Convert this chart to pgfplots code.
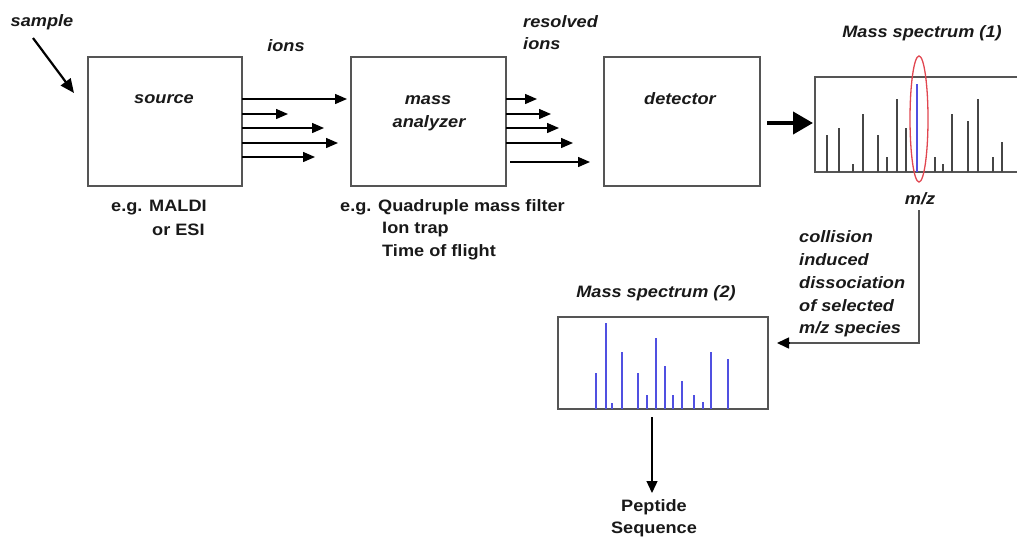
\documentclass[border=0pt]{standalone}
\usepackage{fontspec}
\setmainfont[FakeStretch=1.1]{Liberation Sans}
\usepackage{pgfplots}
\pgfplotsset{compat=1.18}
\usetikzlibrary{arrows.meta}
\definecolor{boxc}{RGB}{85,85,85}
\definecolor{txt}{RGB}{25,25,25}
\definecolor{specgray}{RGB}{70,70,70}
\definecolor{specblue}{RGB}{80,80,225}
\definecolor{ovalred}{RGB}{225,70,80}
\newcommand\lbl{\fontsize{16.5}{19}\selectfont\bfseries}
\tikzset{
  ar/.style={-{Triangle[length=12pt,width=10pt]}, line width=1.4pt, black},
  bx/.style={boxc, line width=1.6pt},
  it/.style={font=\lbl\itshape},
}
\begin{document}
\begin{tikzpicture}[every node/.style={font=\lbl, text=txt, inner sep=0pt}]
\useasboundingbox (0,0) rectangle (1017pt,539pt);
\begin{axis}[at={(0,0)}, anchor=south west, width=1017pt, height=539pt,
  scale only axis, hide axis, clip=false,
  xmin=0, xmax=1017, ymin=0, ymax=539, y dir=reverse]
% boxes
\draw[bx] (88,57) rectangle (242,186);
\draw[bx] (351,57) rectangle (506,186);
\draw[bx] (604,57) rectangle (760,186);
% sample arrow
\draw[-{Triangle[length=14pt,width=12pt]}, line width=2.2pt, black] (33,38) -- (74,93);
\node[it] at (42,22) {sample};
\node[it] at (286,46) {ions};
\node[it] at (164,99) {source};
% ion arrows from source
\draw[ar] (242,99) -- (347,99);
\draw[ar] (242,114) -- (288,114);
\draw[ar] (242,128) -- (324,128);
\draw[ar] (242,143) -- (338,143);
\draw[ar] (242,157) -- (315,157);
\node[anchor=west] at (111,208) {e.g. MALDI};
\node[anchor=west] at (152,230) {or ESI};
% mass analyzer
\node[it] at (428,100) {mass};
\node[it] at (429,123) {analyzer};
\draw[ar] (506,99) -- (537,99);
\draw[ar] (506,114) -- (551,114);
\draw[ar] (506,128) -- (559,128);
\draw[ar] (506,143) -- (573,143);
\draw[ar] (510,162) -- (590,162);
\node[anchor=west] at (340,207) {e.g. Quadruple mass filter};
\node[anchor=west] at (382,230) {Ion trap};
\node[anchor=west] at (382,252) {Time of flight};
\node[it, anchor=west] at (523,22) {resolved};
\node[it, anchor=west] at (523,44) {ions};
% detector
\node[it] at (680,99) {detector};
\draw[-{Triangle[length=20pt,width=22pt]}, line width=4pt, black] (767,123) -- (813,123);
% spectrum 1 labels
\node[it] at (922,33) {Mass spectrum (1)};
\node[it] at (920,199) {m/z};
% CID path
\draw[boxc, line width=1.6pt] (919,210) -- (919,343) -- (785,343);
\draw[-{Triangle[length=12pt,width=11pt]}, line width=1.6pt, black] (790,343) -- (777,343);
\node[it, anchor=west] at (799,237) {collision};
\node[it, anchor=west] at (799,260) {induced};
\node[it, anchor=west] at (799,283) {dissociation};
\node[it, anchor=west] at (799,306) {of selected};
\node[it, anchor=west] at (799,329) {m/z species};
% spectrum 2 labels
\node[it] at (656,293) {Mass spectrum (2)};
\draw[-{Triangle[length=12pt,width=11pt]}, line width=1.3pt, black] (652,417) -- (652,493);
\node at (654,507) {Peptide};
\node at (654,529) {Sequence};
\end{axis}
% Mass spectrum (1)
\begin{axis}[at={(815pt,367pt)}, anchor=south west, width=203pt, height=95pt,
  scale only axis, xmin=815, xmax=1018, ymin=0, ymax=95, ticks=none,
  axis line style={boxc, line width=1.6pt}, clip=false]
\addplot[ycomb, mark=none, line width=2pt, specgray] coordinates {
(826.7,37) (838.7,44.3) (852.7,8) (862.7,58) (878.3,37) (887.3,15.3)
(896.7,73) (905.7,44.3) (935,15.3) (943.3,8) (952,58) (968.3,51.3)
(977.7,73) (993.3,15.3) (1002.3,29.7)};
\addplot[ycomb, mark=none, line width=2.2pt, specblue] coordinates {(916.7,87.7)};
\draw[ovalred, line width=1.3pt] (axis cs:919,53) ellipse [x radius=9pt, y radius=63pt];
\end{axis}
% Mass spectrum (2)
\begin{axis}[at={(558pt,130pt)}, anchor=south west, width=210pt, height=92pt,
  scale only axis, xmin=558, xmax=768, ymin=0, ymax=92, ticks=none,
  axis line style={boxc, line width=1.6pt}, clip=false]
\addplot[ycomb, mark=none, line width=2pt, specblue] coordinates {
(596,35.7) (605.7,86.3) (612,6.3) (622,57.3) (637.7,35.7) (646.7,14)
(655.7,71.3) (665,43) (673,14) (681.7,28.3) (694,14) (702.7,6.7)
(711,57.3) (727.7,50)};
\end{axis}
\end{tikzpicture}
\end{document}
